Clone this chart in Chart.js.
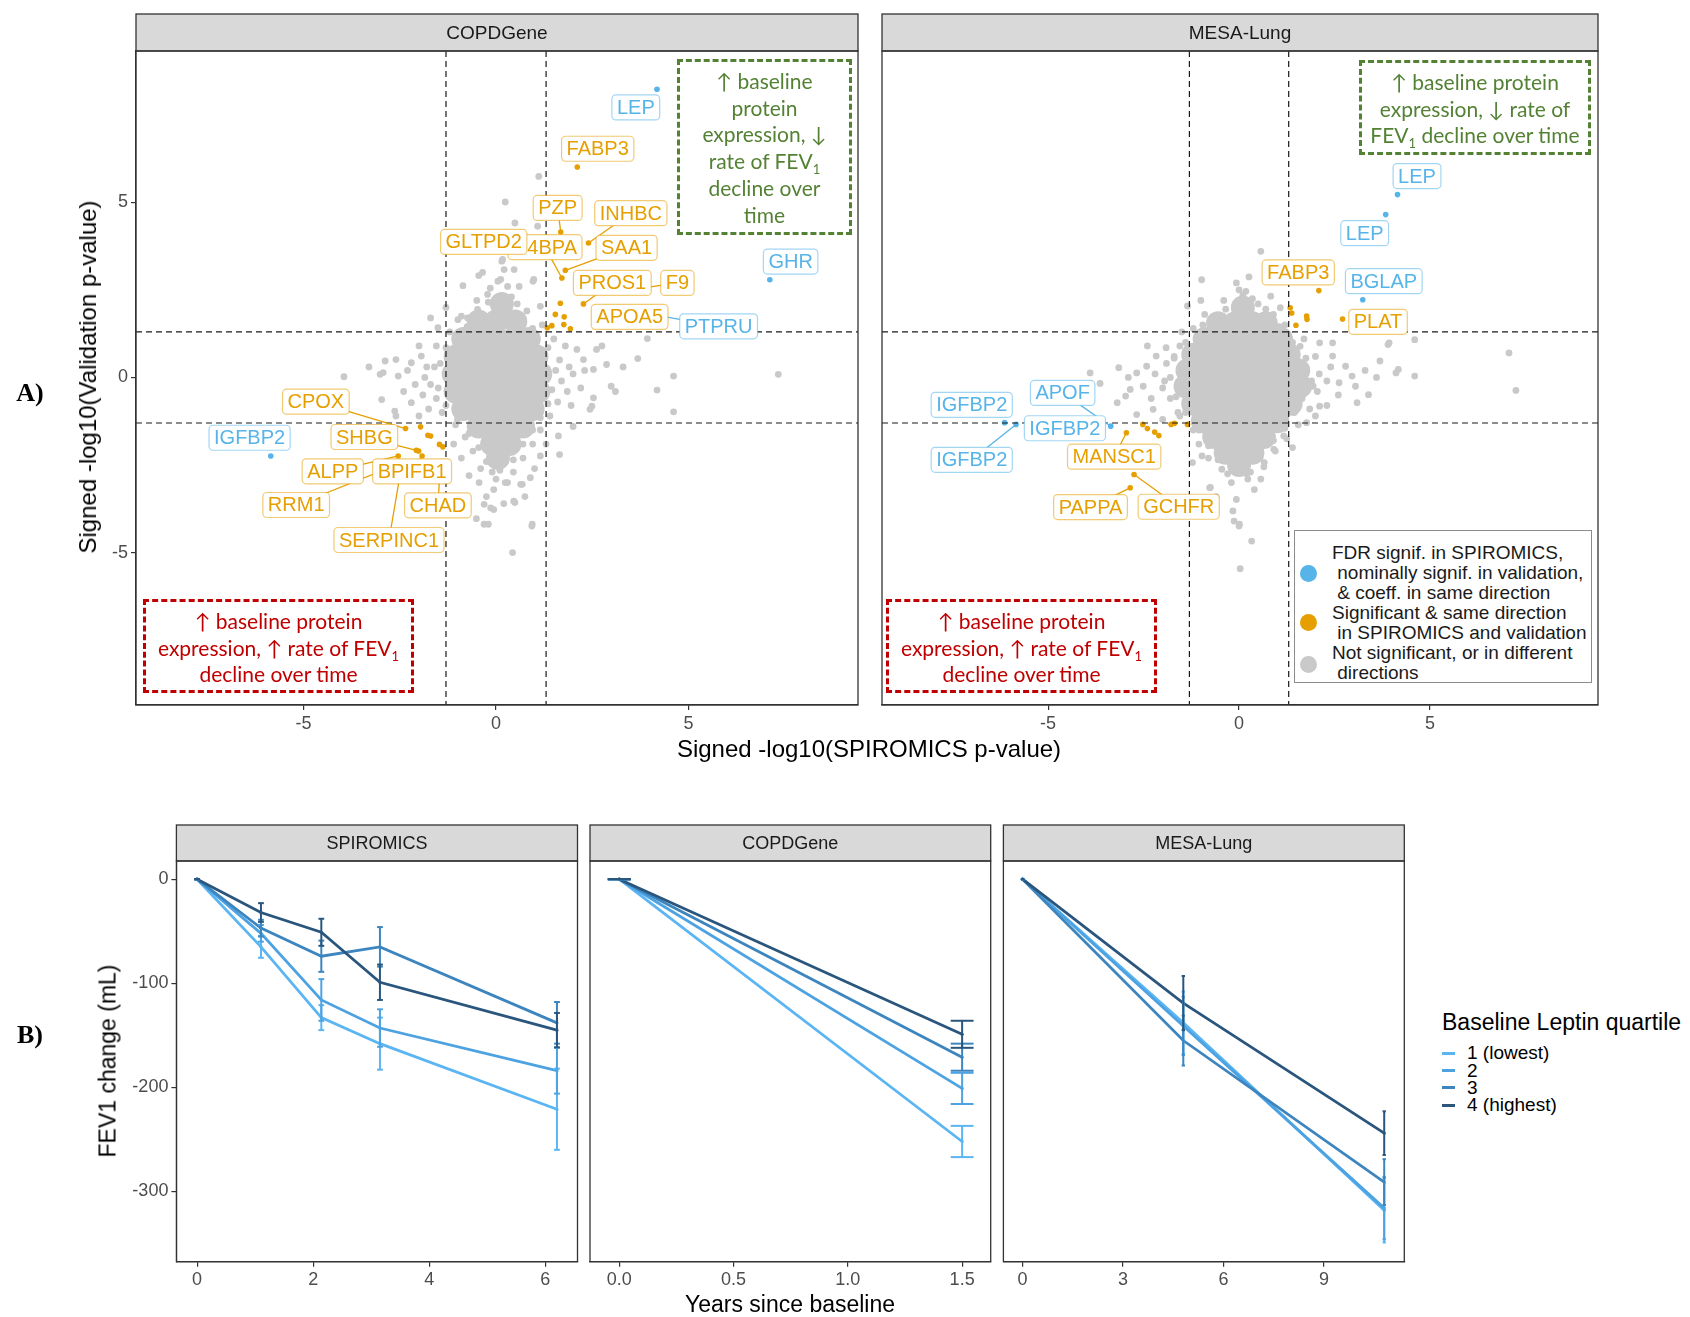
<!DOCTYPE html>
<html>
<head>
<meta charset="utf-8">
<script src="https://cdn.jsdelivr.net/npm/chart.js@4.4.0/dist/chart.umd.min.js"></script>
<style>
body { margin: 0; width: 1690px; height: 1317px; position: relative; background: #fff; overflow: hidden; font-family: "Liberation Sans", Arial, sans-serif; }
canvas { position: absolute; }
.t { position: absolute; white-space: nowrap; color: #000; }
.rot { transform: translate(-50%, -50%) rotate(-90deg); }
.ctr { transform: translate(-50%, -50%); }
.note { position: absolute; box-sizing: border-box; border: 3.5px dashed; text-align: center; font-family: Lato, "Open Sans", sans-serif; font-size: 21px; line-height: 26.7px; padding-top: 6px; }
.note sub { font-size: 13px; line-height: 0; }
.lgA { position: absolute; left: 1294px; top: 530px; width: 298px; height: 153px; box-sizing: border-box; border: 1px solid #8c8c8c; background: #fff; }
.lgA div { position: absolute; white-space: pre; font-size: 19px; line-height: 20px; color: #1a1a1a; }
.dot { position: absolute; width: 17px; height: 17px; border-radius: 50%; }
.lgB { position: absolute; left: 1442px; top: 1008px; }
</style>
</head>
<body>
<canvas id="a1" width="870" height="760" style="left:0;top:0"></canvas>
<canvas id="a2" width="740" height="760" style="left:870px;top:0"></canvas>
<canvas id="b1" width="585" height="517" style="left:0;top:800px"></canvas>
<canvas id="b2" width="410" height="517" style="left:585px;top:800px"></canvas>
<canvas id="b3" width="420" height="517" style="left:995px;top:800px"></canvas>

<div class="t ctr" style="left:30px;top:393px;font:bold 26px 'Liberation Serif',serif">A)</div>
<div class="t ctr" style="left:30px;top:1035px;font:bold 26px 'Liberation Serif',serif">B)</div>
<div class="t rot" style="left:88px;top:377px;font-size:24px">Signed -log10(Validation p-value)</div>
<div class="t ctr" style="left:869px;top:749px;font-size:24px">Signed -log10(SPIROMICS p-value)</div>
<div class="t rot" style="left:108px;top:1061px;font-size:23px">FEV1 change (mL)</div>
<div class="t ctr" style="left:790px;top:1304px;font-size:23px">Years since baseline</div>

<div class="note" style="left:677px;top:59px;width:175px;height:176px;border-color:#548235;color:#548235">↑ baseline<br>protein<br>expression, ↓<br>rate of FEV<sub>1</sub><br>decline over<br>time</div>
<div class="note" style="left:1359px;top:60px;width:232px;height:95px;border-color:#548235;color:#548235">↑ baseline protein<br>expression, ↓ rate of<br>FEV<sub>1</sub> decline over time</div>
<div class="note" style="left:143px;top:599px;width:271px;height:94px;border-color:#c00000;color:#c00000">↑ baseline protein<br>expression, ↑ rate of FEV<sub>1</sub><br>decline over time</div>
<div class="note" style="left:886px;top:599px;width:271px;height:94px;border-color:#c00000;color:#c00000">↑ baseline protein<br>expression, ↑ rate of FEV<sub>1</sub><br>decline over time</div>

<div class="lgA" id="lgA"></div>
<div class="lgB" id="lgB"></div>

<script>
// ---- panel A: signed -log10 p-values (x = SPIROMICS, y = validation cohort)
const xTicksA = [-5, 0, 5]
const yTicksA = [-5, 0, 5]
const sigCut = [-1.3, 1.3]

// COPDGene
const copdGrayCore = [
  [0.15, 2.1],
  [-0.45, 1.6], [0, 1.6], [0.5, 1.6],
  [-0.85, 1.1], [-0.4, 1.1], [0.05, 1.1], [0.5, 1.1], [0.85, 1.1],
  [-1.05, 0.6], [-0.6, 0.6], [-0.15, 0.6], [0.3, 0.6], [0.75, 0.6], [1.05, 0.6],
  [-1.1, 0.1], [-0.65, 0.1], [-0.2, 0.1], [0.25, 0.1], [0.7, 0.1], [1.15, 0.1],
  [-1.05, -0.4], [-0.6, -0.4], [-0.15, -0.4], [0.3, -0.4], [0.75, -0.4], [1.1, -0.4],
  [-0.85, -0.9], [-0.4, -0.9], [0.05, -0.9], [0.5, -0.9], [0.95, -0.9],
  [-0.45, -1.4], [0, -1.4], [0.45, -1.4], [0.7, -1.4],
  [-0.1, -1.9], [0.35, -1.9],
  [0.05, -2.3]
]
const copdGray = [
  [7.33, 0.09], [4.61, 0.04], [4.18, -0.36], [4.61, -0.98], [3.93, 1.11], [3.68, 0.54], [2.99, -0.25], [2.49, -0.82],
  [-3.95, 0.02], [-3.01, 0.09], [-2.6, 0.51], [1.11, 5.74], [0.24, 5.01], [0.49, 4.41], [1.08, 4.32], [0.15, 3.32],
  [-0.45, 2.91], [-0.86, 2.62], [0.96, 2.75], [0.93, -4.24], [0.43, -5.0], [0.49, -3.57], [-0.14, -3.72], [-0.51, -4.03],
  [-0.2, -4.19], [0.24, -3.0], [0.68, -3.05],
  [0.17, 3.37], [0.21, 3.08], [0.47, 3.08], [0.12, 2.8], [-0.22, 2.37], [-0.48, 1.94], [-0.74, 1.7], [-0.99, 1.65],
  [0.98, 2.8], [1.15, 2.03], [-1.51, 1.42], [-1.94, 0.61], [-2.2, 0.42], [-2.54, 0.04], [-2.88, 0.47], [-2.93, 0.14],
  [-2.97, -0.63], [-2.63, -0.96], [-2.2, -0.72], [2.1, 0.8], [2.27, 0.51], [2.53, 0.23], [2.61, 0.8], [2.87, 0.37],
  [2.53, -0.58], [2.44, -0.91], [1.62, -1.67], [1.15, -2.24], [0.89, -2.86], [0.64, -3.05], [-0.06, -3.2], [-0.31, -3.62],
  [-0.06, -3.77], [0.46, -3.53], [0.94, -4.19], [-0.31, -4.19], [-0.44, -3.0],
  [-1.55, 0.9], [-1.6, 0.3], [-1.7, -0.2], [-1.55, -0.6], [-1.4, -1.0], [-1.2, 1.3], [-0.9, 1.75], [-0.5, 2.2],
  [0.4, 2.3], [0.8, 1.9], [1.2, 1.5], [1.5, 1.1], [1.65, 0.5], [1.7, -0.1], [1.6, -0.7], [1.4, -1.1], [1.15, -1.5],
  [0.95, -1.9], [0.7, -2.3], [0.45, -2.7], [-0.4, -2.6], [-0.6, -2.1], [-0.8, -1.7], [-1.05, -1.35], [0.0, -2.9],
  [0.3, -3.0], [-1.85, 0.0], [1.9, 0.3], [1.85, -0.4], [-0.15, 2.55],
  [-2.3, 0.2], [-2.1, -0.2], [-1.9, -0.5], [-2.4, -0.4], [-1.8, 0.3], [-2.0, 0.9], [-1.75, -0.9], [-2.0, -1.1],
  [2.0, 0.1], [2.2, -0.3], [1.95, -0.8], [2.3, 0.2], [1.8, 0.9], [-1.1, -1.9], [-0.9, -2.3], [1.3, -1.9], [1.0, -2.6],
  [-0.25, -3.4], [0.75, -3.4], [0.2, -3.6], [-0.7, -2.8], [0.6, 2.6], [-0.35, 3.0], [-1.3, 2.0], [-1.7, 1.7],
  [-2.6, -1.1], [-3.3, 0.3], [3.3, 0.3], [3.1, -0.4], [2.75, 0.9], [1.65, -2.2], [2.0, -1.4],
  [0.05, 2.75], [0.3, 2.6], [-0.2, 2.15], [0.55, 2.1], [-0.75, 1.45], [0.95, 1.4], [-1.3, 0.85], [1.35, 0.85],
  [-1.45, 0.4], [1.55, 0.2], [-1.5, -0.3], [1.45, -0.35], [-1.3, -0.8], [1.35, -0.75], [-1.0, -1.2], [1.15, -1.15],
  [-0.7, -1.6], [0.95, -1.5], [-0.45, -2.0], [0.7, -1.9], [-0.25, -2.4], [0.45, -2.35], [0.1, -2.65], [-0.1, -2.7]
]
const copdOrange = [
  [2.11, 6.01], [1.68, 4.15], [2.4, 3.84], [1.8, 3.06], [1.71, 2.84], [2.27, 2.1], [1.67, 2.12], [1.54, 1.8],
  [1.77, 1.73], [1.33, 1.42], [1.76, 1.51], [1.93, 1.39], [1.45, 1.48],
  [-2.35, -1.46], [-1.96, -1.41], [-1.77, -1.65], [-1.7, -1.67], [-1.47, -1.91], [-1.38, -1.98], [-2.07, -2.08],
  [-2.01, -2.1], [-2.54, -2.24], [-1.92, -2.24]
]
const copdBlue = [[4.18, 8.23], [7.11, 2.79], [4.3, 1.75], [-5.85, -2.24]]
// gene, group (b = blue, o = orange), label centre, point the leader goes to
const copdLabels = [
  ["LEP", "b", 3.63, 7.71], ["FABP3", "o", 2.64, 6.53], ["PZP", "o", 1.6, 4.84, 1.68, 4.15],
  ["INHBC", "o", 3.5, 4.69, 2.4, 3.84], ["C4BPA", "o", 1.27, 3.72, 1.71, 2.84], ["GLTPD2", "o", -0.32, 3.87],
  ["SAA1", "o", 3.39, 3.7, 1.8, 3.06], ["PROS1", "o", 3.02, 2.7, 2.27, 2.1], ["F9", "o", 4.71, 2.7, 3.8, 2.55],
  ["APOA5", "o", 3.47, 1.73], ["PTPRU", "b", 5.78, 1.46, 4.3, 1.75], ["GHR", "b", 7.65, 3.31],
  ["CPOX", "o", -4.68, -0.69, -2.35, -1.46], ["IGFBP2", "b", -6.4, -1.72], ["SHBG", "o", -3.42, -1.7, -2.04, -2.09],
  ["ALPP", "o", -4.24, -2.68, -2.54, -2.24], ["BPIFB1", "o", -2.18, -2.68, -1.92, -2.24],
  ["RRM1", "o", -5.19, -3.64, -2.6, -2.5], ["CHAD", "o", -1.51, -3.65, -1.45, -2.6],
  ["SERPINC1", "o", -2.78, -4.64, -2.45, -2.5]
]

// MESA-Lung
const mesaGrayCore = [
  [0.1, 2.0],
  [-0.55, 1.55], [-0.1, 1.55], [0.35, 1.55], [0.7, 1.55],
  [-0.9, 1.1], [-0.45, 1.1], [0, 1.1], [0.45, 1.1], [0.9, 1.1], [1.1, 1.1],
  [-1.2, 0.65], [-0.75, 0.65], [-0.3, 0.65], [0.15, 0.65], [0.6, 0.65], [1.05, 0.65], [1.3, 0.65],
  [-1.35, 0.2], [-0.9, 0.2], [-0.45, 0.2], [0, 0.2], [0.45, 0.2], [0.9, 0.2], [1.35, 0.2], [1.55, 0.2],
  [-1.4, -0.25], [-0.95, -0.25], [-0.5, -0.25], [-0.05, -0.25], [0.4, -0.25], [0.85, -0.25], [1.3, -0.25], [1.6, -0.25],
  [-1.2, -0.75], [-0.75, -0.75], [-0.3, -0.75], [0.15, -0.75], [0.6, -0.75], [1.05, -0.75], [1.35, -0.75],
  [-0.95, -1.25], [-0.5, -1.25], [-0.05, -1.25], [0.4, -1.25], [0.85, -1.25], [1.0, -1.25],
  [-0.65, -1.7], [-0.2, -1.7], [0.25, -1.7], [0.65, -1.7],
  [-0.35, -2.15], [0.1, -2.15], [0.35, -2.15],
  [0, -2.5]
]
const mesaGray = [
  [7.25, -0.37], [7.07, 0.7], [4.6, 1.08], [3.93, 0.99], [3.69, 0.47], [4.17, 0.23], [4.6, 0.04], [4.11, 0.13],
  [-3.9, 0.13], [-3.15, 0.28], [-3.64, -0.17], [-2.97, -0.53], [0.57, 3.6], [0.26, 2.87], [-0.98, 2.79],
  [0.33, -4.67], [0.03, -5.46], [0, -4.24], [-0.13, -4.1], [-0.77, -3.15], [-0.07, -3.48],
  [-0.07, 2.7], [0.18, 2.46], [-1.35, 2.04], [-0.75, 1.66], [0.83, 2.32], [1.08, 1.99], [-1.91, 0.85], [-2.17, 0.61],
  [-2.42, 0.32], [-2.68, 0.13], [-2.51, -0.25], [-2.85, -0.34], [-3.19, -0.72], [-2.25, -0.91], [-2.68, -1.06],
  [2.11, 0.99], [2.45, 0.61], [2.79, 0.32], [2.96, 0.04], [2.62, -0.15], [3.05, -0.25], [3.39, -0.49], [3.09, -0.72],
  [1.94, -0.25], [2.11, -0.82], [1.77, -1.29], [1.17, -1.67], [0.91, -2.05], [0.66, -2.43], [0.57, -2.9],
  [-0.02, -2.33], [-0.45, -2.62], [-0.2, -3.0], [0.23, -2.9], [-0.75, -3.14], [-0.16, -3.81], [0.01, -4.19],
  [-0.97, -2.24], [-1.22, -2.43], [3.9, 0.94], [2.45, 0.99], [1.6, 0.89],
  [-1.9, 0.4], [-1.95, -0.1], [-1.8, -0.6], [-1.55, -1.1], [-1.2, -1.5], [-1.05, -1.9], [-0.8, -2.3], [-1.55, 0.9],
  [-1.2, 1.4], [-0.9, 1.8], [-0.4, 2.2], [0.5, 2.1], [0.9, 1.8], [1.2, 1.5], [1.7, 1.1], [2.0, 0.6], [2.1, 0.1],
  [2.05, -0.4], [1.85, -0.9], [1.55, -1.35], [1.25, -1.75], [0.95, -2.1], [0.65, -2.55], [0.3, -2.7], [-0.3, -2.75],
  [2.3, -0.1], [-2.2, 0.1],
  [-2.0, -0.3], [-2.3, -0.6], [-1.7, 0.6], [-2.4, 0.9], [2.4, 0.3], [2.6, -0.5], [2.3, -0.8], [2.0, -1.1],
  [-1.5, 1.3], [-1.0, 2.2], [0.0, 2.5], [-0.6, -3.4], [0.4, -3.2], [1.4, -2.0], [-2.9, 0.0], [3.3, 0.2], [3.6, 0.0],
  [-1.6, -1.0], [-2.0, -1.2],
  [0.1, 2.35], [0.35, 2.25], [-0.35, 1.95], [0.7, 1.95], [-0.95, 1.5], [1.05, 1.45], [-1.4, 1.0], [1.4, 1.0],
  [-1.7, 0.55], [1.75, 0.55], [-1.8, 0.0], [1.9, -0.1], [-1.65, -0.55], [1.65, -0.6], [-1.4, -1.0], [1.45, -1.0],
  [-1.05, -1.5], [1.2, -1.45], [-0.8, -1.95], [0.9, -1.8], [-0.55, -2.35], [0.55, -2.3], [-0.2, -2.6], [0.2, -2.75]
]
const mesaOrange = [
  [2.09, 2.48], [2.71, 1.67], [1.34, 1.99], [1.38, 1.84], [1.77, 1.75], [1.78, 1.66], [1.49, 1.49],
  [-2.52, -1.34], [-2.4, -1.46], [-2.21, -1.56], [-2.1, -1.66], [-1.78, -1.34], [-1.69, -1.31], [-1.35, -1.34],
  [-2.95, -1.58], [-2.75, -2.77], [-2.85, -3.15]
]
const mesaBlue = [[4.15, 5.22], [3.84, 4.65], [3.24, 2.22], [-6.14, -1.29], [-5.84, -1.34], [-3.36, -1.39]]
const mesaLabels = [
  ["LEP", "b", 4.66, 5.75], ["LEP", "b", 3.29, 4.12], ["FABP3", "o", 1.55, 3.0], ["BGLAP", "b", 3.79, 2.75],
  ["PLAT", "o", 3.64, 1.59], ["IGFBP2", "b", -7.0, -0.78], ["APOF", "b", -4.62, -0.44, -3.36, -1.39],
  ["IGFBP2", "b", -4.56, -1.45], ["IGFBP2", "b", -7.0, -2.35, -5.84, -1.34],
  ["MANSC1", "o", -3.27, -2.26, -2.95, -1.58], ["PAPPA", "o", -3.89, -3.7, -2.85, -3.15],
  ["GCHFR", "o", -1.58, -3.69, -2.75, -2.77]
]

// ---- panel B: FEV1 change by baseline leptin quartile
const quartiles = ["1 (lowest)", "2", "3", "4 (highest)"]
const yTicksB = [0, -100, -200, -300]

const spiroYears = [0, 1.1, 2.14, 3.15, 6.2]
const spiroMean = [
  [0, -65, -133, -158, -221],
  [0, -52, -116, -143, -184],
  [0, -47, -74, -65, -138],
  [0, -32, -51, -99, -145]
]
const spiroErr = [
  [0, 10.5, 12, 25, 39],
  [0, 8, 20, 18, 22],
  [0, 8, 15, 19, 20],
  [0, 9, 13, 17, 16.5]
]

const copdYears = [0, 1.5]
const copdMean = [[0, -252], [0, -201], [0, -171], [0, -149]]
const copdErr = [[0, 15], [0, 15], [0, 13], [0, 13]]

const mesaYears = [0, 4.8, 10.8]
const mesaMean = [[0, -138, -318], [0, -141, -316], [0, -155, -291], [0, -119, -244]]
const mesaErr = [[0, 30, 31], [0, 28, 30], [0, 24, 22], [0, 26, 21]]

const GRAY = "#c9c9c9"
const ORANGE = "#E69F00"
const BLUE = "#56B4E9"
const QCOL = ["#5BB5F3", "#4DA3E2", "#3C85BF", "#2A567E"]
const FONT = "'Liberation Sans', Arial, sans-serif"

const toXY = arr => arr.map(p => ({ x: p[0], y: p[1] }))

function line(ctx, x1, y1, x2, y2) {
  ctx.beginPath()
  ctx.moveTo(x1, y1)
  ctx.lineTo(x2, y2)
  ctx.stroke()
}

// strip on top of the panel plus the panel border
function stripPlugin(title, stripH, fontSize) {
  return {
    id: "strip",
    afterDraw(chart) {
      const { ctx, chartArea: a } = chart
      ctx.save()
      ctx.fillStyle = "#d9d9d9"
      ctx.fillRect(a.left, a.top - stripH, a.right - a.left, stripH)
      ctx.strokeStyle = "#333"
      ctx.lineWidth = 1.3
      ctx.strokeRect(a.left, a.top - stripH, a.right - a.left, stripH)
      ctx.strokeRect(a.left, a.top, a.right - a.left, a.bottom - a.top)
      ctx.fillStyle = "#1a1a1a"
      ctx.font = fontSize + "px " + FONT
      ctx.textAlign = "center"
      ctx.textBaseline = "middle"
      ctx.fillText(title, (a.left + a.right) / 2, a.top - stripH / 2 + 1)
      ctx.restore()
    }
  }
}

// dashed significance lines + repelled gene labels
function volcanoPlugin(labels) {
  return {
    id: "volcano",
    afterDatasetsDraw(chart) {
      const { ctx, chartArea: a, scales: { x, y } } = chart
      ctx.save()
      ctx.strokeStyle = "#1a1a1a"
      ctx.lineWidth = 1.2
      ctx.setLineDash([6, 4])
      sigCut.forEach(v => {
        const px = x.getPixelForValue(v)
        line(ctx, px, a.top, px, a.bottom)
        const py = y.getPixelForValue(v)
        line(ctx, a.left, py, a.right, py)
      })
      ctx.setLineDash([])
      ctx.lineWidth = 1.3
      labels.forEach(l => {
        if (l[4] === undefined) return
        ctx.strokeStyle = l[1] === "b" ? BLUE : ORANGE
        line(ctx, x.getPixelForValue(l[2]), y.getPixelForValue(l[3]), x.getPixelForValue(l[4]), y.getPixelForValue(l[5]))
      })
      ctx.font = "20px " + FONT
      ctx.textAlign = "center"
      ctx.textBaseline = "middle"
      labels.forEach(l => {
        const cx = x.getPixelForValue(l[2])
        const cy = y.getPixelForValue(l[3])
        const w = ctx.measureText(l[0]).width + 10
        const h = 25
        ctx.beginPath()
        ctx.roundRect(cx - w / 2, cy - h / 2, w, h, 4)
        ctx.fillStyle = "#fff"
        ctx.fill()
        ctx.strokeStyle = l[1] === "b" ? "rgba(86,180,233,0.55)" : "rgba(230,159,0,0.55)"
        ctx.lineWidth = 1.2
        ctx.stroke()
        ctx.fillStyle = l[1] === "b" ? BLUE : ORANGE
        ctx.fillText(l[0], cx, cy + 1)
      })
      ctx.restore()
    }
  }
}

function axisStyle(size) {
  return {
    ticks: { color: "#4d4d4d", font: { size: size, family: FONT }, padding: 3, maxRotation: 0 },
    grid: { drawOnChartArea: false, drawTicks: true, tickLength: 5, color: "#333", lineWidth: 1.2 },
    border: { display: true, color: "#333", width: 1.2 }
  }
}

function scatterPanel(id, title, core, gray, orange, blue, labels, showY, padL, padR) {
  return new Chart(document.getElementById(id), {
    type: "scatter",
    data: {
      datasets: [
        { data: toXY(blue), backgroundColor: BLUE, pointRadius: 2.8, borderWidth: 0, order: 1 },
        { data: toXY(orange), backgroundColor: ORANGE, pointRadius: 2.8, borderWidth: 0, order: 2 },
        { data: toXY(gray), backgroundColor: GRAY, pointRadius: 3.4, borderWidth: 0, order: 3 },
        { data: toXY(core), backgroundColor: GRAY, pointRadius: 12, borderWidth: 0, order: 4 }
      ]
    },
    options: {
      responsive: false,
      animation: false,
      devicePixelRatio: 1,
      events: [],
      layout: { padding: { top: 51, left: padL, right: padR, bottom: 0 } },
      plugins: { legend: { display: false }, tooltip: { enabled: false } },
      scales: {
        x: Object.assign(axisStyle(18), {
          type: "linear", min: -9.35, max: 9.4,
          afterBuildTicks: s => { s.ticks = xTicksA.map(v => ({ value: v })) },
          afterFit: s => { s.height = 55 }
        }),
        y: Object.assign(axisStyle(18), {
          display: showY, min: -9.35, max: 9.32,
          afterBuildTicks: s => { s.ticks = yTicksA.map(v => ({ value: v })) },
          afterFit: s => { s.width = showY ? 136 : 0 }
        })
      }
    },
    plugins: [volcanoPlugin(labels), stripPlugin(title, 37, 19)]
  })
}

// error bars, ggplot style (cap width 0.1 in x units)
const errorBars = {
  id: "errorBars",
  afterDatasetsDraw(chart) {
    const { ctx, scales: { x, y } } = chart
    ctx.save()
    ctx.lineWidth = 2
    chart.data.datasets.forEach(ds => {
      ctx.strokeStyle = ds.borderColor
      ds.data.forEach((p, j) => {
        const e = ds.errs[j]
        const px = x.getPixelForValue(p.x)
        const hw = x.getPixelForValue(p.x + 0.05) - px
        const y1 = y.getPixelForValue(p.y + e)
        const y2 = y.getPixelForValue(p.y - e)
        line(ctx, px, y1, px, y2)
        line(ctx, px - hw, y1, px + hw, y1)
        line(ctx, px - hw, y2, px + hw, y2)
      })
    })
    ctx.restore()
  }
}

function linePanel(id, title, years, means, errs, xMin, xMax, xTicks, showY, padL, padR) {
  return new Chart(document.getElementById(id), {
    type: "line",
    data: {
      datasets: means.map((m, i) => ({
        data: years.map((t, j) => ({ x: t, y: m[j] })),
        errs: errs[i],
        borderColor: QCOL[i],
        backgroundColor: QCOL[i],
        borderWidth: 2.8,
        pointRadius: 1.6,
        pointBorderWidth: 0,
        order: 4 - i
      }))
    },
    options: {
      responsive: false,
      animation: false,
      devicePixelRatio: 1,
      events: [],
      layout: { padding: { top: 61, left: padL, right: padR, bottom: 0 } },
      plugins: { legend: { display: false }, tooltip: { enabled: false } },
      scales: {
        x: Object.assign(axisStyle(18), {
          type: "linear", min: xMin, max: xMax,
          afterBuildTicks: s => { s.ticks = xTicks.map(v => ({ value: v })) },
          afterFit: s => { s.height = 55.3 }
        }),
        y: Object.assign(axisStyle(18), {
          display: showY, min: -367.5, max: 17.5,
          afterBuildTicks: s => { s.ticks = yTicksB.map(v => ({ value: v })) },
          afterFit: s => { s.width = showY ? 176.4 : 0 }
        })
      }
    },
    plugins: [errorBars, stripPlugin(title, 36, 18)]
  })
}

scatterPanel("a1", "COPDGene", copdGrayCore, copdGray, copdOrange, copdBlue, copdLabels, true, 0, 8)
scatterPanel("a2", "MESA-Lung", mesaGrayCore, mesaGray, mesaOrange, mesaBlue, mesaLabels, false, 5.2, 8.4)

linePanel("b1", "SPIROMICS", spiroYears, spiroMean, spiroErr, -0.357, 6.554, [0, 2, 4, 6], true, 0, 7.5)
const b2 = linePanel("b2", "COPDGene", copdYears, copdMean, copdErr, -0.128, 1.625, [0, 0.5, 1, 1.5], false, 5, 4.3)
b2.options.scales.x.ticks.callback = v => Number(v).toFixed(1)
b2.update()
linePanel("b3", "MESA-Lung", mesaYears, mesaMean, mesaErr, -0.573, 11.4, [0, 3, 6, 9], false, 8.4, 10.7)

// legend for panel A
const legendText = [
  "FDR signif. in SPIROMICS,", " nominally signif. in validation,", " & coeff. in same direction",
  "Significant & same direction", " in SPIROMICS and validation", "Not significant, or in different", " directions"
]
const lgA = document.getElementById("lgA")
legendText.forEach((s, i) => {
  const d = document.createElement("div")
  d.textContent = s
  d.style.left = "37px"
  d.style.top = (11.7 + i * 20) + "px"
  lgA.appendChild(d)
})
;[[BLUE, 42], [ORANGE, 91.7], [GRAY, 133.3]].forEach(([c, cy]) => {
  const d = document.createElement("span")
  d.className = "dot"
  d.style.background = c
  d.style.left = "4.5px"
  d.style.top = (cy - 8.5) + "px"
  lgA.appendChild(d)
})

// legend for panel B
const lgB = document.getElementById("lgB")
const head = document.createElement("div")
head.className = "t"
head.style.cssText = "left:0;top:0;font-size:23px;line-height:28px"
head.textContent = "Baseline Leptin quartile"
lgB.appendChild(head)
quartiles.forEach((q, i) => {
  const cy = 45.3 + i * 17.25
  const key = document.createElement("span")
  key.style.cssText = "position:absolute;left:0;width:12.5px;height:3px;top:" + (cy - 1.5) + "px;background:" + QCOL[i]
  lgB.appendChild(key)
  const t = document.createElement("div")
  t.className = "t"
  t.style.cssText = "left:25px;font-size:19px;line-height:20px;top:" + (cy - 10) + "px"
  t.textContent = q
  lgB.appendChild(t)
})
</script>
</body>
</html>
